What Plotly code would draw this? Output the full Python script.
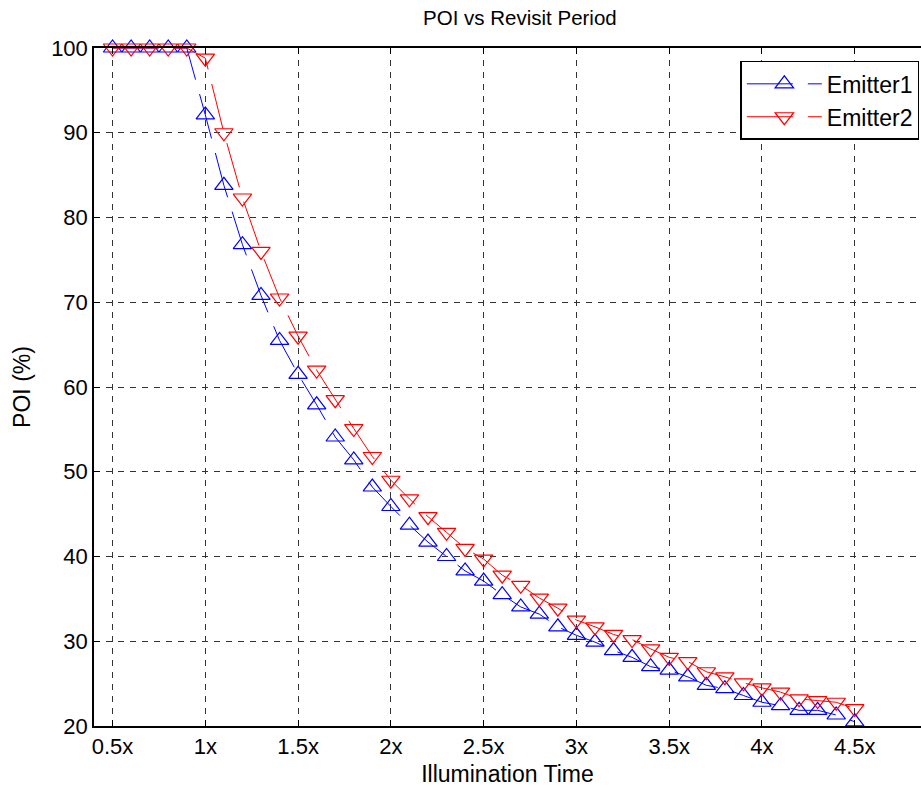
import plotly.graph_objects as go

x_vals = [round(0.5 + 0.1 * i, 1) for i in range(41)]

emitter1 = [100, 100, 100, 100, 100, 92.1, 83.8, 76.8, 70.8, 65.5,
            61.5, 57.9, 54.1, 51.4, 48.2, 45.9, 43.7, 41.7, 40.0, 38.3,
            37.1, 35.5, 34.05, 33.2, 31.7, 30.7, 29.9, 28.9, 28.1, 27.0,
            26.6, 25.8, 24.8, 24.4, 23.6, 22.8, 22.4, 21.85, 21.85, 21.3, 20.5]

emitter2 = [100, 100, 100, 100, 100, 98.8, 90.0, 82.3, 76.0, 70.5,
            66.0, 62.0, 58.5, 55.1, 51.8, 49.0, 46.8, 44.7, 42.85, 40.95,
            39.7, 37.8, 36.6, 35.1, 33.9, 32.5, 31.7, 30.8, 30.2, 29.1,
            28.1, 27.6, 26.4, 25.8, 25.1, 24.5, 24.0, 23.2, 23.0, 22.8, 22.05]

x_tickvals = [0.5, 1, 1.5, 2, 2.5, 3, 3.5, 4, 4.5]
x_ticktext = ["0.5x", "1x", "1.5x", "2x", "2.5x", "3x", "3.5x", "4x", "4.5x"]
y_tickvals = [20, 30, 40, 50, 60, 70, 80, 90, 100]

FONT = "Liberation Sans, Arial, sans-serif"

fig = go.Figure()
fig.add_trace(go.Scatter(
    x=x_vals, y=emitter1, name="Emitter1", mode="lines+markers",
    line=dict(color="#0000FF", width=1, dash="46px,15px"),
    marker=dict(symbol="triangle-up-open", size=16, color="#0000FF",
                line=dict(width=1.2, color="#0000FF")),
    cliponaxis=False,
))
fig.add_trace(go.Scatter(
    x=x_vals, y=emitter2, name="Emitter2", mode="lines+markers",
    line=dict(color="#FF0000", width=1, dash="46px,15px"),
    marker=dict(symbol="triangle-down-open", size=16, color="#FF0000",
                line=dict(width=1.2, color="#FF0000")),
    cliponaxis=False,
))

axis_common = dict(
    showgrid=True, gridcolor="#333333", griddash="6px,6px", gridwidth=1,
    zeroline=False, showline=True, linecolor="black", linewidth=1.5,
    ticks="inside", ticklen=6, tickcolor="black",
    tickfont=dict(family=FONT, size=22, color="black"),
)

fig.update_layout(
    width=921, height=787,
    margin=dict(l=94, r=0, t=48, b=61),
    paper_bgcolor="white", plot_bgcolor="white",
    font=dict(family=FONT, size=22, color="black"),
    title=dict(text="POI vs Revisit Period", x=0.515, xanchor="center",
               xref="paper", y=0.977, yanchor="middle",
               font=dict(family=FONT, size=20.5, color="black")),
    xaxis=dict(range=[0.4, 4.857], tickvals=x_tickvals, ticktext=x_ticktext,
               mirror="ticks",
               title=dict(text="Illumination Time", standoff=8,
                          font=dict(family=FONT, size=23)),
               **axis_common),
    yaxis=dict(range=[20, 100], tickvals=y_tickvals, mirror=False,
               title=dict(text="POI (%)", standoff=14,
                          font=dict(family=FONT, size=23)),
               **axis_common),
    legend=dict(x=0.998, xanchor="right", y=0.981, yanchor="top",
                bgcolor="white", bordercolor="black", borderwidth=1.5,
                font=dict(family=FONT, size=23, color="black"),
                itemwidth=75, tracegroupgap=4),
    showlegend=True,
)

fig.write_html("out.html")
